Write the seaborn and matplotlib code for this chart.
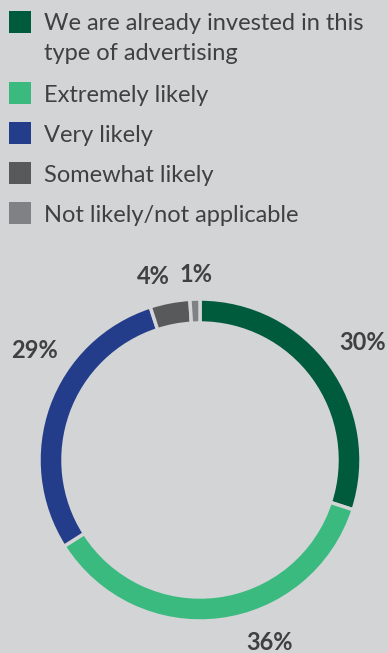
import matplotlib
matplotlib.use("Agg")
import matplotlib.pyplot as plt
from matplotlib.patches import Rectangle
import seaborn as sns

categories = ["We are already invested in this\ntype of advertising",
              "Extremely likely", "Very likely", "Somewhat likely",
              "Not likely/not applicable"]
values = [30, 36, 29, 4, 1]
value_labels = ["30%", "36%", "29%", "4%", "1%"]
colors = ["#005a3c", "#3bba7f", "#233d8a", "#58595b", "#808184"]

BG = "#d3d4d6"
TXT = "#404041"

sns.set_theme(style="white")
plt.rcParams["font.family"] = ["Lato", "DejaVu Sans"]

W, H = 388, 653
fig = plt.figure(figsize=(W / 100, H / 100), dpi=100, facecolor=BG)

# donut axes: center (200,460) px, radius 161 px
cx, cy, R = 200, 460, 161
ax = fig.add_axes([(cx - R) / W, (H - cy - R) / H, 2 * R / W, 2 * R / H])
ax.set_facecolor(BG)
wedges, _ = ax.pie(values, colors=colors, startangle=90, counterclock=False,
                   radius=1.0,
                   wedgeprops=dict(width=24 / R, edgecolor=BG, linewidth=2.5))
ax.set_xlim(-1, 1)
ax.set_ylim(-1, 1)
ax.set_aspect("equal")
ax.axis("off")

# label positions in pixels (layout)
label_px = [(363, 343), (270, 643), (34, 350), (153, 277), (196, 275)]
for lab, (px, py) in zip(value_labels, label_px):
    fig.text(px / W, 1 - py / H, lab, ha="center", va="center",
             fontsize=17, fontweight="bold", color=TXT)

# legend drawn manually
row_y = [22, 93, 133, 173, 213]
for cat, col, y in zip(categories, colors, row_y):
    fig.patches.append(Rectangle((9 / W, 1 - (y + 11) / H), 22 / W, 22 / H,
                                 transform=fig.transFigure, facecolor=col,
                                 edgecolor="none"))
    for i, line in enumerate(cat.split("\n")):
        fig.text(44 / W, 1 - (y + 30 * i) / H, line, ha="left",
                 va="center_baseline", fontsize=17, color=TXT)

fig.savefig("out.png", dpi=100, facecolor=BG)
